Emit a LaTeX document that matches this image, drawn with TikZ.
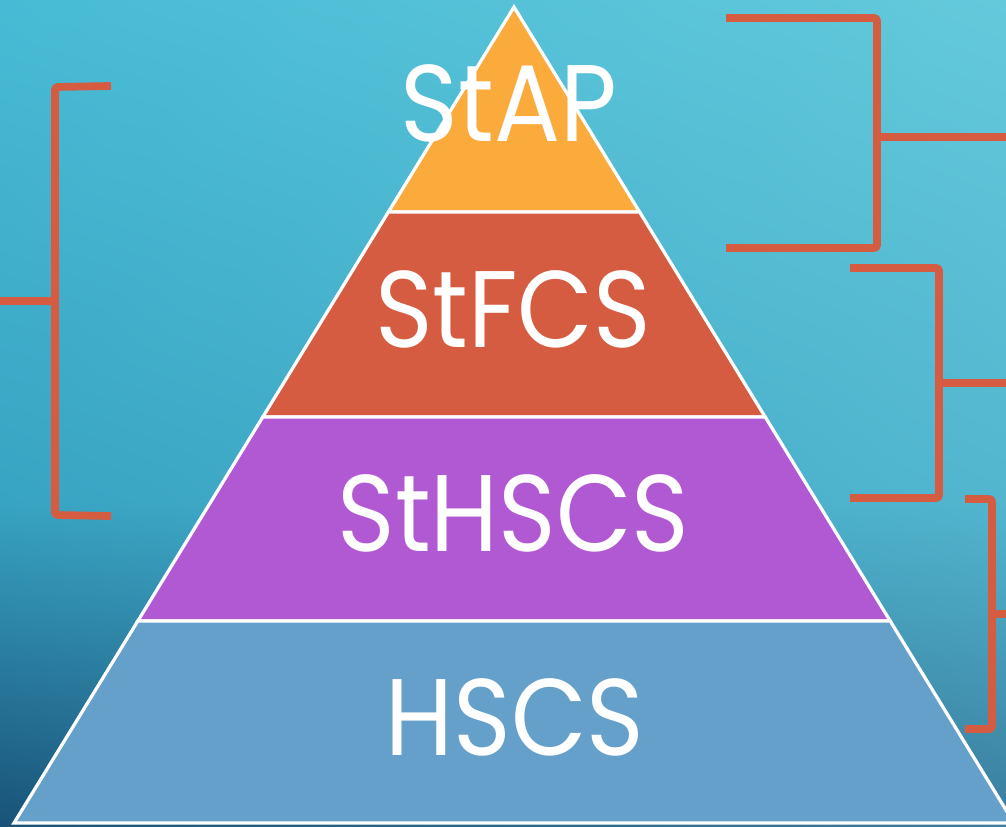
\documentclass[tikz,border=0pt]{standalone}
\usepackage{fontspec}
\setmainfont{Poppins}
\usetikzlibrary{positioning}
\usetikzlibrary{shadings}

\definecolor{bgtl}{HTML}{47BBD5}
\definecolor{bgtr}{HTML}{64C9DB}
\definecolor{bgml}{HTML}{38A4C3}
\definecolor{bgmr}{HTML}{52B6CF}
\definecolor{bgbl}{HTML}{195278}
\definecolor{bgbr}{HTML}{3A7D9E}
\definecolor{apcol}{HTML}{FBAA3C}
\definecolor{fcscol}{HTML}{D55B41}
\definecolor{hscol}{HTML}{B059D3}
\definecolor{basecol}{HTML}{65A0CB}
\definecolor{brcol}{HTML}{D55B41}

\tikzset{
  layer/.style={draw=white, line width=0.065cm, line join=miter},
  lbl/.style={text=white, anchor=base, inner sep=0pt, font=\fontsize{62}{70}\selectfont, xscale=0.9},
  bracket/.style={draw=brcol, line width=0.155cm, rounded corners=0.06cm}
}

\begin{document}
\begin{tikzpicture}[x=0.02cm, y=-0.02cm]
\useasboundingbox (0,0) rectangle (1006,827);
\clip (0,0) rectangle (1006,827);

% background
\shade[upper left=bgtl, upper right=bgtr, lower left=bgml, lower right=bgmr] (0,0) rectangle (1006,500);
\shade[upper left=bgml, upper right=bgmr, lower left=bgbl, lower right=bgbr] (0,500) rectangle (1006,827);

% pyramid
\filldraw[layer, fill=apcol] (514,7) -- (639.6,212) -- (388.4,212) -- cycle;
\filldraw[layer, fill=fcscol] (388.4,212) -- (639.6,212) -- (765.2,417) -- (262.8,417) -- cycle;
\filldraw[layer, fill=hscol] (262.8,417) -- (765.2,417) -- (890.2,621) -- (137.8,621) -- cycle;
\filldraw[layer, fill=basecol] (137.8,621) -- (890.2,621) -- (1014,823) -- (14,823) -- cycle;

\node[lbl] (StAP) at (509,142) {StAP};
\node[lbl] (StFCS) at (513,347) {StFCS};
\node[lbl] (StHSCS) at (513.5,551) {StHSCS};
\node[lbl] (HSCS) at (515,755) {HSCS};

% brackets
\coordinate (L1) at (111,86);
\coordinate (L2) at (111,516);
\coordinate (Lm) at (55,301);
\coordinate (Lout) at (-5,301);
\draw[bracket] (L1) -- (55,87) -- (55,515) -- (L2);
\draw[bracket] (Lm) -- (Lout);

\coordinate (A1) at (726,18);
\coordinate (A2) at (726,248);
\coordinate (Am) at (877,137);
\coordinate (Aout) at (1010,137);
\draw[bracket] (A1) -- (877,18) -- (877,248) -- (A2);
\draw[bracket] (Am) -- (Aout);

\coordinate (B1) at (850,268);
\coordinate (B2) at (850,498);
\coordinate (Bm) at (939,383);
\coordinate (Bout) at (1010,383);
\draw[bracket] (B1) -- (939,268) -- (939,498) -- (B2);
\draw[bracket] (Bm) -- (Bout);

\coordinate (C1) at (965,499);
\coordinate (C2) at (965,729);
\coordinate (Cm) at (992,614);
\coordinate (Cout) at (1010,614);
\draw[bracket] (C1) -- (992,499) -- (992,729) -- (C2);
\draw[bracket] (Cm) -- (Cout);
\end{tikzpicture}
\end{document}
